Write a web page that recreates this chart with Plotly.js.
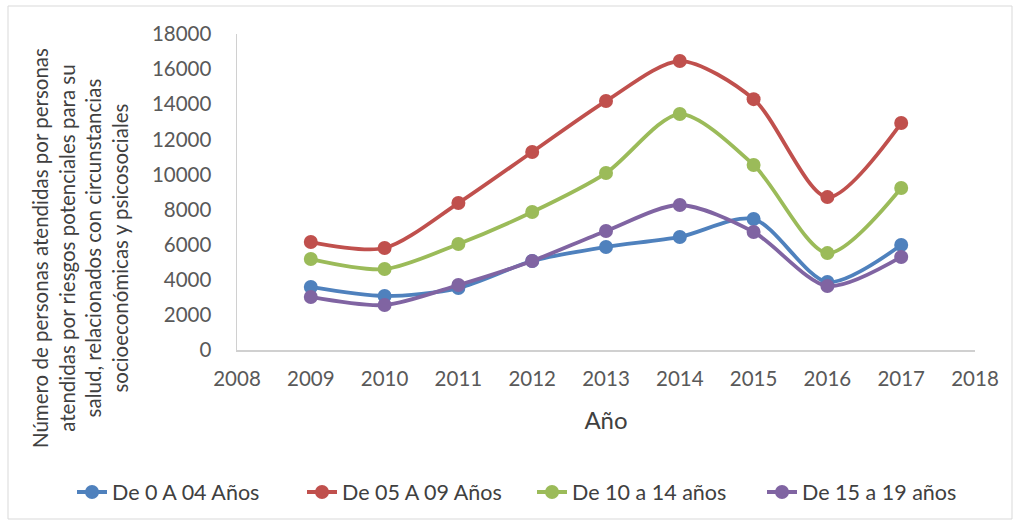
<!DOCTYPE html>
<html><head><meta charset="utf-8">
<script src="https://cdn.plot.ly/plotly-3.0.1.min.js"></script>
<style>body{margin:0;background:#fff}#c{width:1019px;height:525px}</style>
</head><body><div id="c"></div>
<script>
const years = [2009, 2010, 2011, 2012, 2013, 2014, 2015, 2016, 2017];
const seriesNames = ["De 0 A 04 Años", "De 05 A 09 Años", "De 10 a 14 años", "De 15 a 19 años"];
const s0a04 = [3590, 3075, 3530, 5070, 5870, 6440, 7460, 3870, 5980];
const s05a09 = [6150, 5810, 8370, 11280, 14180, 16460, 14290, 8710, 12930];
const s10a14 = [5180, 4610, 6040, 7860, 10080, 13440, 10540, 5520, 9230];
const s15a19 = [3020, 2560, 3700, 5070, 6780, 8260, 6720, 3640, 5300];
const colors = ["#4f81bd", "#c0504d", "#9bbb59", "#8064a2"];
const yTitle = "Número de personas atendidas por personas<br>atendidas por riesgos potenciales para su<br>salud, relacionados con circunstancias<br>socioeconómicas y psicosociales";

const all = [s0a04, s05a09, s10a14, s15a19];
const traces = all.map((v, i) => ({
  x: years, y: v, name: seriesNames[i], type: "scatter", mode: "lines+markers",
  line: {color: colors[i], width: 3.8, shape: "spline", smoothing: 0.8},
  marker: {color: colors[i], size: 14}
}));

const font = "Lato, 'Open Sans', sans-serif";
const layout = {
  width: 1019, height: 525,
  margin: {l: 237, r: 44, t: 34, b: 175, autoexpand: false},
  paper_bgcolor: "#fff", plot_bgcolor: "#fff",
  font: {family: font, size: 20.5, color: "#595959"},
  showlegend: true,
  legend: {orientation: "h", x: (72 - 237) / 738, xanchor: "left", y: (350 - 492) / 316, yanchor: "middle",
           font: {size: 21.5, color: "#404040"}, entrywidth: 185, tracegroupgap: 0,
           bgcolor: "rgba(0,0,0,0)"},
  xaxis: {range: [2008, 2018], dtick: 1, tick0: 2008, tickformat: "d", showgrid: false, zeroline: false,
          showline: true, linecolor: "#d0d0d0", linewidth: 1.5, ticks: "", ticklabelstandoff: 10,
          title: {text: "Año", font: {size: 24, color: "#404040"}, standoff: 23}},
  yaxis: {range: [0, 18000], dtick: 2000, tickformat: "d", showgrid: false, zeroline: false,
          showline: true, linecolor: "#d0d0d0", linewidth: 1.5, ticks: "", ticklabelstandoff: 20},
  annotations: [{text: yTitle, xref: "paper", yref: "paper", x: -0.2127, y: (350 - 248) / 316,
                 xanchor: "center", yanchor: "middle", textangle: -90, showarrow: false,
                 font: {size: 20.5, color: "#404040", family: font}}],
  shapes: [{type: "rect", xref: "paper", yref: "paper",
            x0: (8 - 237) / 738, x1: (1012 - 237) / 738, y0: (350 - 519) / 316, y1: (350 - 6) / 316,
            line: {color: "#d9d9d9", width: 1}}]
};
Plotly.newPlot("c", traces, layout, {displayModeBar: false, staticPlot: true});
</script></body></html>
